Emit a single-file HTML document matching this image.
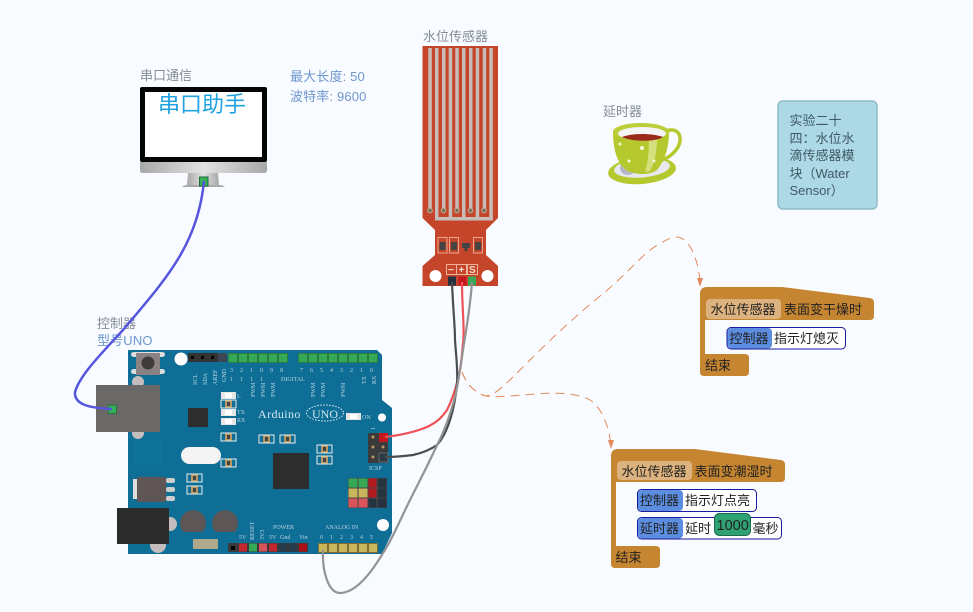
<!DOCTYPE html>
<html><head><meta charset="utf-8"><style>
html,body{margin:0;padding:0;background:#f8fbff}
svg{display:block}
text{font-family:"Liberation Sans","Noto Sans CJK SC",sans-serif}
.g{font-size:13px;fill:#858d99}
.b{font-size:13px;fill:#6f97cf;letter-spacing:.15px}
.s{font-family:"Liberation Serif","Noto Serif CJK SC",serif;font-size:6px;fill:#b9d3df}
.k{font-size:13px;fill:#222}
</style></head><body>
<svg width="973" height="612" viewBox="0 0 973 612" xmlns="http://www.w3.org/2000/svg">
<defs>
<g id="smd"><rect x="0" y="0" width="15" height="8" fill="#0e6e96" stroke="#e8eef0" stroke-width="1"/><rect x="4" y="0.5" width="7" height="7" fill="#b79a63"/><rect x="6" y="2" width="3" height="4" fill="#444"/></g>
<g id="smw"><rect x="0" y="0" width="15" height="7" fill="#e6e6e6"/><rect x="4" y="1" width="7" height="5" fill="#fff"/></g>
<linearGradient id="sil" x1="0" y1="0" x2="1" y2="0"><stop offset="0" stop-color="#a8a8a8"/><stop offset=".5" stop-color="#e2e2e2"/><stop offset="1" stop-color="#a8a8a8"/></linearGradient>
</defs>
<rect width="973" height="612" fill="#f8fbff"/>

<!-- monitor -->
<text x="140" y="80" class="g">串口通信</text>
<rect x="140" y="87" width="127" height="75" rx="2" fill="#050505"/>
<rect x="145" y="92" width="117" height="65" fill="#fff"/>
<path d="M140 162H267V170Q267 173 264 173H143Q140 173 140 170Z" fill="url(#sil)"/>
<path d="M188 173H218L219 185H187Z" fill="url(#sil)"/>
<path d="M182 187Q184 185 187 185H219Q223 185 225 187Z" fill="#aaa"/>
<rect x="199.500" y="177" width="8.500" height="9" fill="#35b05a" stroke="#1f6b34"/>
<text x="158" y="112" font-size="22" fill="#1fa3e0">串口助手</text>
<text x="290" y="81" class="b">最大长度: 50</text>
<text x="290" y="101" class="b">波特率: 9600</text>

<!-- board -->
<text x="97" y="328" class="g">控制器</text>
<text x="97" y="345" class="b">型号UNO</text>
<path d="M128 350H377L382 355V400L392 408V533L382 554H128Z" fill="#0e6e96"/>
<circle cx="138" cy="382" r="6" fill="#c5bdbd"/><circle cx="138" cy="433" r="6" fill="#c5bdbd"/><circle cx="170" cy="524" r="7" fill="#c5bdbd"/><circle cx="158" cy="545" r="8" fill="#c5bdbd"/>
<rect x="131" y="369" width="34" height="5" rx="2.500" fill="#ddd"/><rect x="131" y="352" width="34" height="5" rx="2.500" fill="#ddd"/>
<rect x="136" y="353" width="24" height="22" fill="#8a8282"/><circle cx="148" cy="363" r="6.500" fill="#3f3b3b"/>
<circle cx="181" cy="359" r="6.500" fill="#fff"/><circle cx="382" cy="417.500" r="4" fill="#fff"/><circle cx="383" cy="525" r="6" fill="#fff"/>
<rect x="188" y="353" width="30" height="9" fill="#333"/><rect x="218" y="353" width="9" height="9" rx="1" fill="#3c4654"/>
<rect x="191" y="356" width="3" height="3" fill="#000"/><rect x="201" y="356" width="3" height="3" fill="#000"/><rect x="211" y="356" width="3" height="3" fill="#000"/>
<g fill="#36a957" stroke="#2a7a41" stroke-width="1">
<rect x="228.500" y="353.500" width="9" height="9"/><rect x="238.500" y="353.500" width="9" height="9"/><rect x="248.500" y="353.500" width="9" height="9"/><rect x="258.500" y="353.500" width="9" height="9"/><rect x="268.500" y="353.500" width="9" height="9"/><rect x="278.500" y="353.500" width="9" height="9"/>
<rect x="298.500" y="353.500" width="9" height="9"/><rect x="308.500" y="353.500" width="9" height="9"/><rect x="318.500" y="353.500" width="9" height="9"/><rect x="328.500" y="353.500" width="9" height="9"/><rect x="338.500" y="353.500" width="9" height="9"/><rect x="348.500" y="353.500" width="9" height="9"/><rect x="358.500" y="353.500" width="9" height="9"/><rect x="368.500" y="353.500" width="9" height="9"/>
</g>
<text class="s" x="230" y="372">3</text><text class="s" x="240" y="372">2</text><text class="s" x="250" y="372">1</text><text class="s" x="260" y="372">0</text><text class="s" x="270" y="372">9</text><text class="s" x="280" y="372">8</text>
<text class="s" x="230" y="381">1</text><text class="s" x="240" y="381">1</text><text class="s" x="250" y="381">1</text><text class="s" x="260" y="381">1</text>
<text class="s" x="281" y="381">DIGITAL</text>
<text class="s" x="300" y="372">7</text><text class="s" x="310" y="372">6</text><text class="s" x="320" y="372">5</text><text class="s" x="330" y="372">4</text><text class="s" x="340" y="372">3</text><text class="s" x="350" y="372">2</text><text class="s" x="360" y="372">1</text><text class="s" x="370" y="372">0</text>
<text class="s" transform="translate(197,385) rotate(-90)">SCL</text><text class="s" transform="translate(207,385) rotate(-90)">SDA</text><text class="s" transform="translate(217,385) rotate(-90)">AREF</text><text class="s" transform="translate(226,382) rotate(-90)">GND</text>
<text class="s" transform="translate(255,397) rotate(-90)">PWM</text><text class="s" transform="translate(265,397) rotate(-90)">PWM</text><text class="s" transform="translate(275,397) rotate(-90)">PWM</text><text class="s" transform="translate(315,397) rotate(-90)">PWM</text><text class="s" transform="translate(325,397) rotate(-90)">PWM</text><text class="s" transform="translate(345,397) rotate(-90)">PWM</text>
<text class="s" transform="translate(366,384) rotate(-90)">TX</text><text class="s" transform="translate(376,384) rotate(-90)">RX</text>
<use href="#smw" x="221" y="392"/><use href="#smd" x="221" y="400"/><use href="#smw" x="221" y="409"/><use href="#smw" x="221" y="418"/>
<text class="s" x="237" y="398">L</text><text class="s" x="237" y="414">TX</text><text class="s" x="237" y="422">RX</text>
<use href="#smd" x="221" y="433"/><use href="#smd" x="221" y="459"/><use href="#smd" x="259" y="435"/><use href="#smd" x="280" y="435"/><use href="#smd" x="317" y="445"/><use href="#smd" x="317" y="456"/><use href="#smd" x="187" y="474"/><use href="#smd" x="187" y="486"/>
<use href="#smw" x="346" y="413"/><text class="s" x="362" y="419">ON</text>
<text x="258" y="418" font-size="12" letter-spacing=".4" fill="#d3e5ed" style="font-family:'Liberation Serif',serif">Arduino</text>
<ellipse cx="325" cy="413" rx="18.500" ry="8" fill="none" stroke="#e6f0f5" stroke-width="1" stroke-dasharray="1.500 1.500"/>
<text x="312" y="418" font-size="12" fill="#d3e5ed" style="font-family:'Liberation Serif',serif">UNO</text>
<rect x="188" y="408" width="20" height="19" fill="#2d2d2d"/>
<rect x="273" y="453" width="36" height="36" fill="#2d2d2d"/>
<rect x="181" y="447" width="40" height="17" rx="8.500" fill="#f4f4f4"/>
<rect x="134" y="440" width="28" height="24" fill="#0f7399"/>
<rect x="133" y="479" width="5" height="20" fill="#ddd"/><rect x="137" y="477" width="29" height="25" rx="2" fill="#5f5555"/>
<rect x="166" y="478" width="9" height="5" rx="2" fill="#ccc"/><rect x="166" y="487" width="9" height="5" rx="2" fill="#ccc"/><rect x="166" y="496" width="9" height="5" rx="2" fill="#ccc"/>
<rect x="117" y="508" width="52" height="36" fill="#2b2b2b"/>
<path d="M183.500 532A13 13 0 1 1 202.500 532Z" fill="#5c5656"/><path d="M215.500 532A13 13 0 1 1 234.500 532Z" fill="#5c5656"/>
<rect x="193" y="539" width="25" height="10" fill="#b0a88a"/>
<rect x="228" y="543" width="80" height="9" fill="#3a3a3a"/>
<rect x="231" y="546" width="4" height="4" fill="#000"/>
<rect x="239" y="543.500" width="8" height="8" fill="#c3272d"/><rect x="249" y="543.500" width="8" height="8" fill="#36a957"/><rect x="259" y="543.500" width="8" height="8" fill="#d9545a"/><rect x="269" y="543.500" width="8" height="8" fill="#c3272d"/><rect x="279" y="543.500" width="8" height="8" fill="#273a4e"/><rect x="289" y="543.500" width="8" height="8" fill="#273a4e"/><rect x="299" y="543.500" width="8" height="8" fill="#a80f16"/>
<g fill="#c9b55a" stroke="#7c6f35"><rect x="318.500" y="543.500" width="9" height="9"/><rect x="328.500" y="543.500" width="9" height="9"/><rect x="338.500" y="543.500" width="9" height="9"/><rect x="348.500" y="543.500" width="9" height="9"/><rect x="358.500" y="543.500" width="9" height="9"/><rect x="368.500" y="543.500" width="9" height="9"/></g>
<text class="s" x="239" y="539">5V</text><text class="s" transform="translate(254,540) rotate(-90)">RESET</text><text class="s" transform="translate(264,540) rotate(-90)">3V3</text><text class="s" x="269" y="539">5V</text><text class="s" x="280" y="539">Gnd</text><text class="s" x="299" y="539">Vin</text><text class="s" x="273" y="529">POWER</text>
<text class="s" x="325" y="529">ANALOG  IN</text>
<text class="s" x="320" y="539">0</text><text class="s" x="330" y="539">1</text><text class="s" x="340" y="539">2</text><text class="s" x="350" y="539">3</text><text class="s" x="360" y="539">4</text><text class="s" x="370" y="539">5</text>
<rect x="368" y="433" width="20" height="30" fill="#3b3b3b"/>
<g fill="#b79a63"><circle cx="373" cy="437" r="1.500"/><circle cx="373" cy="447" r="1.500"/><circle cx="373" cy="457" r="1.500"/><circle cx="383" cy="447" r="1.500"/></g>
<rect x="379" y="433" width="9" height="9" fill="#c3171d"/><rect x="379" y="453" width="9" height="9" fill="#2c3a46" stroke="#888" stroke-width=".6"/>
<text class="s" x="369" y="470">ICSP</text><text class="s" transform="translate(375,430) rotate(-90)">1</text>
<rect x="348" y="478" width="39" height="30" fill="#454545"/>
<rect x="348.500" y="478.500" width="9" height="9" fill="#36a957"/><rect x="358.500" y="478.500" width="9" height="9" fill="#36a957"/><rect x="368.500" y="478.500" width="8" height="9" fill="#b31a20"/><rect x="378" y="478.500" width="8.500" height="9" fill="#253341"/>
<rect x="348.500" y="488.500" width="9" height="9" fill="#c9b55a"/><rect x="358.500" y="488.500" width="9" height="9" fill="#c9b55a"/><rect x="368.500" y="488.500" width="8" height="9" fill="#b31a20"/><rect x="378" y="488.500" width="8.500" height="9" fill="#253341"/>
<rect x="348.500" y="498.500" width="9" height="9" fill="#d9545a"/><rect x="358.500" y="498.500" width="9" height="9" fill="#d9545a"/><rect x="368.500" y="498.500" width="8" height="9" fill="#253341"/><rect x="378" y="498.500" width="8.500" height="9" fill="#253341"/>
<rect x="96" y="385" width="64" height="47" fill="#6b6868"/>
<rect x="108" y="405" width="8.500" height="8.500" fill="#35b05a" stroke="#1f6b34" stroke-width=".8"/>

<!-- sensor -->
<text x="423" y="41" class="g">水位传感器</text>
<path d="M422.500 46H498V218L486 230V255L498 266V286H422.500V266L435 255V230L422.500 218Z" fill="#c5452a"/>
<g fill="#c6bdb8">
<rect x="428.300" y="48" width="3.500" height="162"/><rect x="435" y="48" width="3.500" height="170"/><rect x="442" y="48" width="3.500" height="162"/><rect x="448.700" y="48" width="3.500" height="170"/><rect x="455.300" y="48" width="3.500" height="162"/><rect x="462" y="48" width="3.500" height="170"/><rect x="469" y="48" width="3.500" height="162"/><rect x="475.700" y="48" width="3.500" height="170"/><rect x="482.700" y="48" width="3.500" height="162"/><rect x="489.300" y="48" width="3.500" height="170"/>
<rect x="435" y="217" width="58" height="3.500"/>
</g>
<g fill="#7d6e4e" stroke="#b9b0a0"><circle cx="430" cy="210.500" r="2.300"/><circle cx="443.500" cy="210.500" r="2.300"/><circle cx="457" cy="210.500" r="2.300"/><circle cx="470.500" cy="210.500" r="2.300"/><circle cx="484" cy="210.500" r="2.300"/></g>
<g fill="none" stroke="#eaa98f" stroke-width="1"><rect x="438" y="237.500" width="9" height="15.500"/><rect x="449.500" y="237.500" width="9" height="15.500"/><rect x="473.500" y="237.500" width="9" height="15.500"/></g>
<g fill="#444"><rect x="439.500" y="242" width="6" height="8"/><rect x="451" y="242" width="6" height="8"/><rect x="475" y="242" width="6" height="8"/><rect x="462" y="243" width="8" height="5"/><rect x="464.500" y="248" width="3" height="3"/></g>
<g fill="none" stroke="#efb39a" stroke-width="1"><rect x="446.500" y="264.500" width="10" height="10"/><rect x="456.500" y="264.500" width="10" height="10"/><rect x="467.500" y="264.500" width="10" height="10"/></g>
<text x="448" y="273" font-size="10" font-weight="bold" fill="#f6dccb">−</text><text x="458.500" y="273" font-size="10" font-weight="bold" fill="#f6dccb">+</text><text x="469" y="273" font-size="10" font-weight="bold" fill="#f6dccb">S</text>
<circle cx="435.500" cy="276" r="6" fill="#fff"/><circle cx="487.500" cy="276" r="6" fill="#fff"/>
<rect x="448" y="276.500" width="8" height="9" fill="#253341"/><rect x="458.500" y="276.500" width="8" height="9" fill="#c3171d"/><rect x="468" y="276.500" width="8" height="9" fill="#36a957"/>

<!-- wires -->
<path d="M204 181C198 245 165 280 123 330C100 355 80 375 75 392C74 405 90 408 112 409" fill="none" stroke="#5555dd" stroke-width="2.500"/>
<path d="M462 282C462 310 465 330 463 343C462 352 462 360 460 370C457 385 453 398 447 410C440 420 435 423 427 427C415 432 402 435 385 437" fill="none" stroke="#ee5257" stroke-width="2.200"/>
<path d="M452 282C453 310 455 325 455 340C456 355 458 370 457 383C456 395 454 408 450 420C446 432 443 438 437 445C430 450 422 453 413 455C405 456 396 457 385 457" fill="none" stroke="#4a4d50" stroke-width="2.200"/>
<path d="M472 282C470 310 466 330 463 350C460 370 458 385 455 397C450 415 445 430 438 443C428 465 420 480 410 500C400 520 392 540 383 553C370 575 355 593 340 593C328 593 322 570 323 550" fill="none" stroke="#939393" stroke-width="2.200"/>

<!-- dashed connectors -->
<path d="M462 372C465 380 470 390 485 396C495 396 505 385 530 360C555 335 580 312 605 292C625 275 640 258 650 250C660 243 670 237 677 237C688 238 694 252 698 267L700 279" fill="none" stroke="#e38a5a" stroke-width="1" stroke-dasharray="9 6"/>
<path d="M462 372C465 380 470 390 485 396C510 400 560 385 590 400C602 408 608 425 610.500 441" fill="none" stroke="#e38a5a" stroke-width="1" stroke-dasharray="9 6"/>
<path d="M697 278H703L700 287Z" fill="#e38a5a"/><path d="M608 440H614L611 449Z" fill="#e38a5a"/>

<!-- cup -->
<text x="603" y="116" class="g">延时器</text>
<ellipse cx="642" cy="170.500" rx="34" ry="13.500" transform="rotate(-5 642 170)" fill="#b5c92e"/>
<ellipse cx="642" cy="168" rx="28" ry="9.500" transform="rotate(-5 642 168)" fill="#e7e9ee"/>
<ellipse cx="628" cy="168" rx="8" ry="7" fill="#b6b8c8"/>
<path d="M666 131C680 126 684 140 676 150C672 155 668 158 662 160" fill="none" stroke="#b5c92e" stroke-width="3.500"/>
<path d="M613 132C613 150 618 168 630 172C640 175 650 175 657 170C665 160 669 148 669 132Z" fill="#b5c92e"/>
<path d="M649 139L657 138C657 150 655 162 650 171L645 172C648 163 649 150 649 139Z" fill="#d5e07d"/>
<ellipse cx="641" cy="131.500" rx="28" ry="8.500" fill="#bccf3a"/>
<ellipse cx="642" cy="133.500" rx="24" ry="6.500" fill="#f4f4f4"/>
<path d="M622 137C632 133 652 133 663 137C656 142 632 142 622 137Z" fill="#9c2a1a"/>
<g fill="#f4f6dc"><circle cx="620" cy="144" r="1.500"/><circle cx="642" cy="148" r="2"/><circle cx="629" cy="161" r="1.500"/><circle cx="654" cy="161" r="1.500"/></g>

<!-- note -->
<rect x="778" y="101" width="99" height="108" rx="5" fill="#add8e6" stroke="#8fbcc6" stroke-width="1.500"/>
<g font-size="13" fill="#3f5a66"><text x="789.500" y="125">实验二十</text><text x="789.500" y="143">四：水位水</text><text x="789.500" y="160">滴传感器模</text><text x="789.500" y="178">块（Water</text><text x="789.500" y="195">Sensor）</text></g>

<!-- block 1 -->
<path d="M700 294Q700 287 707 287H782L870 298Q874 299 874 302V316Q874 320 870 320H705V354H745Q749 354 749 358V372Q749 376 745 376H704Q700 376 700 372Z" fill="#c68530"/>
<rect x="706" y="299" width="75" height="20" rx="4" fill="#dcb27e"/>
<text x="710.500" y="314" class="k">水位传感器</text><text x="784" y="314" class="k">表面变干燥时</text>
<rect x="727" y="327.500" width="118.500" height="21.500" rx="4" fill="#fff" stroke="#1a1a9c"/>
<rect x="727.500" y="328" width="44.500" height="20.500" rx="4" fill="#5b8de0"/>
<text x="729.500" y="343" class="k">控制器</text><text x="774" y="343" class="k">指示灯熄灭</text>
<text x="705" y="370" class="k">结束</text>

<!-- block 2 -->
<path d="M611 456Q611 449 618 449H695L781 460Q785 461 785 464V478Q785 482 781 482H616V546H656Q660 546 660 550V564Q660 568 656 568H615Q611 568 611 564Z" fill="#c68530"/>
<rect x="617" y="461" width="75" height="19" rx="4" fill="#dcb27e"/>
<text x="621.500" y="476" class="k">水位传感器</text><text x="694.500" y="476" class="k">表面变潮湿时</text>
<rect x="637.500" y="489.500" width="119" height="22" rx="4" fill="#fff" stroke="#1a1a9c"/>
<rect x="638" y="490" width="45" height="21" rx="4" fill="#5b8de0"/>
<text x="640" y="505" class="k">控制器</text><text x="685" y="505" class="k">指示灯点亮</text>
<rect x="637.500" y="517.500" width="144" height="21.500" rx="4" fill="#fff" stroke="#1a1a9c"/>
<rect x="638" y="518" width="45" height="20.500" rx="4" fill="#5b8de0"/>
<text x="640" y="533" class="k">延时器</text><text x="685" y="533" class="k">延时</text>
<rect x="714.500" y="513.500" width="36" height="22" rx="5" fill="#2fa273" stroke="#1d6a4a"/>
<text x="716.500" y="530" font-size="14.500" fill="#222">1000</text>
<text x="752.500" y="533" class="k">毫秒</text>
<text x="615.500" y="562" class="k">结束</text>
</svg>
</body></html>
